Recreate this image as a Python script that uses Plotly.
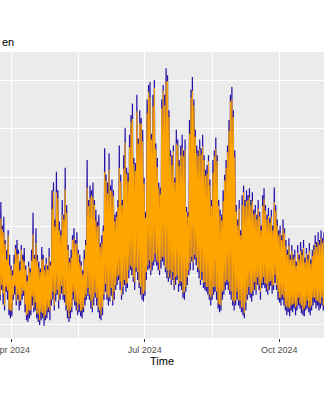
import numpy as np
import pandas as pd
import plotly.graph_objects as go

# Daily series, first day 2024-03-20
start_day = "2024-03-20"

blue_high = [
    11.0, 8.2, 9.0, 11.8,
    12.5, 10.1, 11.0, 8.6, 7.6, 9.6, 7.1, 6.0, 5.5, 7.1,
    8.1, 8.6, 7.6, 6.4, 8.1, 7.1, 7.8, 6.0, 5.0, 6.4,
    5.7, 7.6, 11.4, 7.1, 9.8, 7.1, 6.4, 5.7, 7.9, 7.1,
    6.0, 6.8, 6.0, 7.8, 6.4, 13.7, 14.5, 10.7, 15.6, 13.7,
    10.5, 9.6, 12.7, 11.2, 16.0, 12.2, 8.1, 6.8, 7.6, 9.1,
    9.8, 8.6, 9.4, 7.6, 7.1, 6.4, 5.5, 7.6, 8.6, 16.8,
    12.7, 14.2, 13.7, 14.5, 12.7, 11.7, 10.5, 11.2, 8.3, 9.1,
    10.1, 18.0, 15.3, 14.5, 17.5, 14.2, 14.8, 13.7, 11.2, 11.5,
    12.7, 18.3, 15.3, 12.7, 17.3, 20.1, 16.0, 15.5, 19.4, 21.4,
    22.6, 17.0, 16.5, 23.5, 19.0, 21.9, 21.1, 19.9, 15.0, 11.5,
    23.0, 24.5, 24.8, 19.5, 23.5, 25.0, 18.5, 17.0, 14.5, 14.0,
    23.0, 24.5, 23.5, 26.2, 25.5, 21.9, 17.8, 17.3, 18.3, 15.0,
    19.9, 18.9, 16.8, 18.3, 19.4, 17.8, 18.9, 12.0, 11.5, 20.9,
    24.0, 25.3, 23.0, 19.9, 18.3, 17.8, 18.9, 18.0, 19.4, 17.3,
    15.8, 16.3, 17.3, 14.8, 12.7, 16.8, 17.8, 19.1, 17.3, 12.7,
    11.7, 11.2, 13.7, 15.3, 16.8, 18.3, 20.9, 23.5, 24.3, 21.9,
    17.8, 12.2, 10.7, 12.7, 9.6, 13.2, 14.2, 12.7, 13.7, 13.2,
    13.9, 12.7, 13.5, 11.7, 12.2, 11.2, 12.7, 11.5, 10.1, 13.2,
    13.9, 12.2, 11.2, 11.9, 10.9, 11.7, 10.1, 14.0, 12.2, 10.7,
    9.6, 10.1, 9.1, 10.7, 9.8, 8.6, 7.6, 8.8, 7.1, 8.1,
    7.1, 7.6, 6.4, 8.1, 7.1, 8.4, 7.6, 8.6, 6.8, 7.8,
    7.1, 8.3, 6.6, 7.6, 8.1, 9.1, 8.4, 9.4, 8.6, 9.6,
    8.8, 9.4, 8.5, 9.0, 8.0,
]

blue_low = [
    2.6, 3.0, 2.2, 2.8,
    2.4, 3.5, 2.0, 1.4, 3.3, 2.5, 0.9, 0.6, 0.8, 2.5,
    3.0, 1.9, 2.5, 1.4, 1.9, 2.5, 2.9, 1.2, 0.4, 0.2,
    0.6, 0.9, 1.9, 1.2, 1.4, 0.6, 0.2, -0.1, 0.4, 0.6,
    -0.2, 0.4, 0.6, 1.2, 0.4, 1.9, 2.5, 1.4, 2.3, 3.0,
    1.6, 2.5, 3.1, 2.5, 2.2, 1.4, 0.6, 0.2, 0.6, 1.2,
    2.5, 1.9, 1.4, 0.9, 1.2, 0.8, 0.6, 1.2, 1.9, 2.5,
    2.9, 2.5, 1.6, 1.2, 1.9, 2.7, 1.9, 1.2, 0.6, 0.4,
    0.9, 2.5, 3.3, 2.5, 1.9, 2.3, 2.9, 1.9, 2.5, 3.5,
    4.0, 4.5, 3.5, 2.5, 3.0, 4.0, 3.3, 3.7, 4.7, 5.5,
    5.0, 4.3, 3.5, 5.3, 4.5, 3.7, 3.0, 2.5, 2.3, 2.9,
    4.5, 5.5, 5.7, 5.0, 5.5, 6.0, 6.4, 6.0, 5.5, 5.0,
    5.7, 6.4, 6.0, 5.3, 4.7, 4.3, 4.7, 4.0, 4.5, 3.5,
    4.0, 4.5, 3.3, 3.9, 3.5, 2.7, 2.5, 3.3, 4.0, 5.0,
    5.5, 6.4, 5.5, 6.6, 6.0, 5.3, 4.7, 4.0, 4.5, 3.7,
    3.5, 3.3, 3.0, 2.5, 1.9, 2.5, 3.0, 3.3, 2.5, 1.6,
    1.2, 1.4, 2.5, 3.0, 3.5, 4.0, 3.5, 3.0, 2.5, 1.9,
    1.4, 1.9, 2.5, 1.9, 1.6, 1.2, 0.9, 0.6, 1.4, 2.5,
    3.0, 2.7, 2.3, 2.9, 3.5, 3.0, 4.0, 3.5, 2.5, 3.7,
    4.0, 3.7, 3.3, 3.0, 3.5, 3.9, 3.1, 3.5, 4.2, 3.5,
    2.5, 2.2, 1.9, 2.5, 1.9, 1.4, 0.9, 1.2, 0.8, 1.4,
    1.2, 1.6, 0.9, 1.4, 1.9, 1.6, 1.1, 0.9, 0.8, 1.4,
    1.6, 1.2, 0.9, 1.4, 1.9, 2.2, 1.6, 1.9, 1.4, 1.6,
    1.9, 1.4, 1.8, 1.5, 2.0,
]

orange_high = [
    10.2, 7.9, 8.0, 10.9,
    10.8, 9.7, 9.4, 8.2, 6.6, 9.1, 6.0, 5.6, 5.0, 6.2,
    7.7, 7.2, 7.2, 5.5, 7.6, 6.6, 6.4, 5.6, 4.4, 5.9,
    5.3, 6.5, 9.2, 6.7, 8.3, 6.5, 5.8, 5.3, 6.6, 6.7,
    5.5, 6.2, 5.6, 6.9, 6.0, 11.8, 13.6, 10.0, 13.5, 12.9,
    9.6, 9.1, 11.2, 10.7, 13.8, 11.4, 7.6, 6.3, 6.8, 8.6,
    8.8, 8.2, 8.3, 7.2, 6.3, 6.0, 5.1, 6.7, 8.1, 14.0,
    12.1, 12.9, 13.2, 13.0, 12.2, 10.6, 10.0, 10.1, 7.9, 8.3,
    9.5, 15.6, 14.7, 13.4, 15.8, 13.7, 13.6, 13.1, 10.5, 11.0,
    12.0, 16.0, 14.6, 12.2, 15.9, 18.6, 15.4, 14.6, 18.1, 20.7,
    21.0, 16.4, 15.7, 21.8, 18.5, 20.6, 20.5, 18.7, 14.4, 10.9,
    21.6, 23.8, 23.2, 18.9, 22.3, 24.2, 17.9, 16.1, 14.0, 13.3,
    22.1, 23.9, 22.4, 24.8, 24.9, 21.2, 17.2, 16.3, 17.7, 14.5,
    18.5, 18.3, 16.2, 17.3, 18.0, 17.2, 17.8, 11.5, 11.0, 19.5,
    23.2, 23.9, 22.4, 19.2, 17.5, 17.2, 17.9, 17.4, 18.2, 16.8,
    15.2, 15.4, 16.7, 14.2, 12.1, 15.5, 17.2, 17.9, 16.7, 12.1,
    11.1, 10.6, 12.6, 14.7, 16.0, 17.6, 19.8, 22.8, 23.0, 21.2,
    17.1, 11.5, 10.1, 11.8, 9.1, 12.2, 13.5, 12.1, 12.6, 12.7,
    13.0, 12.2, 12.6, 11.2, 11.4, 10.7, 11.8, 11.0, 9.6, 12.1,
    12.8, 11.6, 10.7, 11.1, 10.4, 11.0, 9.6, 12.5, 11.6, 10.1,
    9.1, 9.3, 8.6, 9.8, 9.3, 8.0, 7.1, 8.0, 6.6, 7.5,
    6.6, 6.9, 6.0, 7.3, 6.6, 7.5, 7.1, 7.8, 6.3, 7.2,
    6.6, 7.5, 6.2, 7.0, 7.6, 8.2, 7.9, 8.5, 8.1, 8.8,
    8.3, 8.6, 8.0, 8.3, 7.5,
]

orange_low = [
    3.2, 3.5, 3.2, 3.3,
    3.0, 4.0, 3.1, 1.9, 3.8, 3.4, 1.5, 1.4, 1.3, 3.0,
    3.9, 2.4, 3.0, 2.3, 2.4, 3.1, 3.4, 2.0, 0.9, 1.0,
    1.4, 1.4, 2.8, 1.7, 2.2, 1.1, 1.0, 0.4, 1.2, 1.1,
    0.6, 0.9, 1.4, 1.7, 1.3, 2.5, 3.3, 1.9, 3.1, 3.5,
    2.4, 3.0, 3.9, 3.0, 3.0, 1.9, 1.4, 0.7, 1.4, 1.7,
    3.3, 2.4, 2.2, 1.4, 2.0, 1.3, 1.4, 1.7, 2.7, 3.0,
    3.7, 3.0, 2.4, 1.7, 2.7, 3.2, 2.7, 1.7, 1.4, 0.9,
    1.7, 3.0, 4.1, 3.0, 2.7, 2.8, 3.7, 2.4, 3.3, 4.0,
    4.8, 5.0, 4.3, 3.0, 3.8, 4.5, 4.1, 4.2, 5.5, 6.0,
    5.8, 4.8, 4.3, 5.8, 5.3, 4.2, 3.8, 3.0, 3.1, 3.4,
    5.3, 6.0, 6.5, 5.5, 6.3, 6.5, 7.2, 6.5, 6.3, 5.5,
    6.5, 6.9, 6.8, 5.8, 5.5, 4.8, 5.5, 4.5, 5.3, 4.0,
    4.8, 5.0, 4.1, 4.4, 4.3, 3.2, 3.3, 3.8, 4.8, 5.5,
    6.3, 6.9, 6.3, 7.1, 6.8, 5.8, 5.5, 4.5, 5.3, 4.2,
    4.3, 3.8, 3.8, 3.0, 2.7, 3.0, 3.8, 3.8, 3.3, 2.1,
    2.0, 1.9, 3.3, 3.5, 4.3, 4.5, 4.3, 3.5, 3.3, 2.4,
    2.2, 2.4, 3.3, 2.4, 2.4, 1.7, 1.7, 1.1, 2.2, 3.0,
    3.8, 3.2, 3.1, 3.4, 4.3, 3.5, 4.8, 4.0, 3.3, 4.2,
    4.8, 4.2, 4.1, 3.5, 4.3, 4.4, 3.9, 4.0, 5.0, 4.0,
    3.3, 2.7, 2.7, 3.0, 2.7, 1.9, 1.7, 1.7, 1.6, 1.9,
    2.0, 2.1, 1.7, 1.9, 2.7, 2.1, 1.9, 1.4, 1.6, 1.9,
    2.4, 1.7, 1.7, 1.9, 2.7, 2.7, 2.4, 2.4, 2.2, 2.1,
    2.7, 1.9, 2.6, 2.0, 2.8,
]

major_ticks = ["2024-04-01", "2024-07-01", "2024-10-01"]
major_labels = ["Apr 2024", "Jul 2024", "Oct 2024"]
minor_ticks = ["2024-05-16 12:00", "2024-08-16"]
title_text = "en"
x_title = "Time"

n = len(blue_high)
assert len(blue_low) == n and len(orange_high) == n and len(orange_low) == n

days = pd.date_range(start_day, periods=n, freq="D")
t_low = days + pd.Timedelta(hours=3)
t_high = days + pd.Timedelta(hours=14)
times = []
for a, b in zip(t_low, t_high):
    times.extend([a, b])

def interleave(lo, hi):
    out = []
    for a, b in zip(lo, hi):
        out.extend([a, b])
    return out

fig = go.Figure()
fig.add_trace(go.Scatter(x=times, y=interleave(blue_low, blue_high), mode="lines",
                         line=dict(color="#2412A8", width=1.2), showlegend=False))
fig.add_trace(go.Scatter(x=times, y=interleave(orange_low, orange_high), mode="lines",
                         line=dict(color="#FFA500", width=1.1), showlegend=False))

fig.update_layout(
    width=324, height=400,
    margin=dict(l=0, r=0, t=52, b=62, pad=0),
    paper_bgcolor="white", plot_bgcolor="#EBEBEB",
    font=dict(family="Liberation Sans, Arial, sans-serif", color="#4D4D4D"),
    showlegend=False,
    annotations=[dict(text=title_text, xref="paper", yref="paper", x=0, y=1,
                      xanchor="left", yanchor="bottom", yshift=2, showarrow=False,
                      font=dict(size=11, color="black"))],
)
fig.update_xaxes(
    type="date", range=["2024-03-24 00:00", "2024-10-31 14:00"],
    tickmode="array", tickvals=major_ticks, ticktext=major_labels,
    showgrid=True, gridcolor="white", gridwidth=1.1,
    ticks="outside", ticklen=3, tickcolor="#333333", tickwidth=1,
    tickfont=dict(size=9, color="#4D4D4D"),
    ticklabeloverflow="allow", automargin=False,
    minor=dict(tickvals=minor_ticks, showgrid=True, gridcolor="white", gridwidth=0.6, ticks=""),
    showline=False, zeroline=False,
    title=dict(text=x_title, font=dict(size=11, color="black"), standoff=2),
)
fig.update_yaxes(
    range=[-1.43, 27.87],
    tickmode="array", tickvals=[0, 10, 20], showticklabels=False,
    showgrid=True, gridcolor="white", gridwidth=1.1,
    minor=dict(tickvals=[5, 15, 25], showgrid=True, gridcolor="white", gridwidth=0.6, ticks=""),
    ticks="", zeroline=False, showline=False, automargin=False,
)

fig.write_html("out.html")
